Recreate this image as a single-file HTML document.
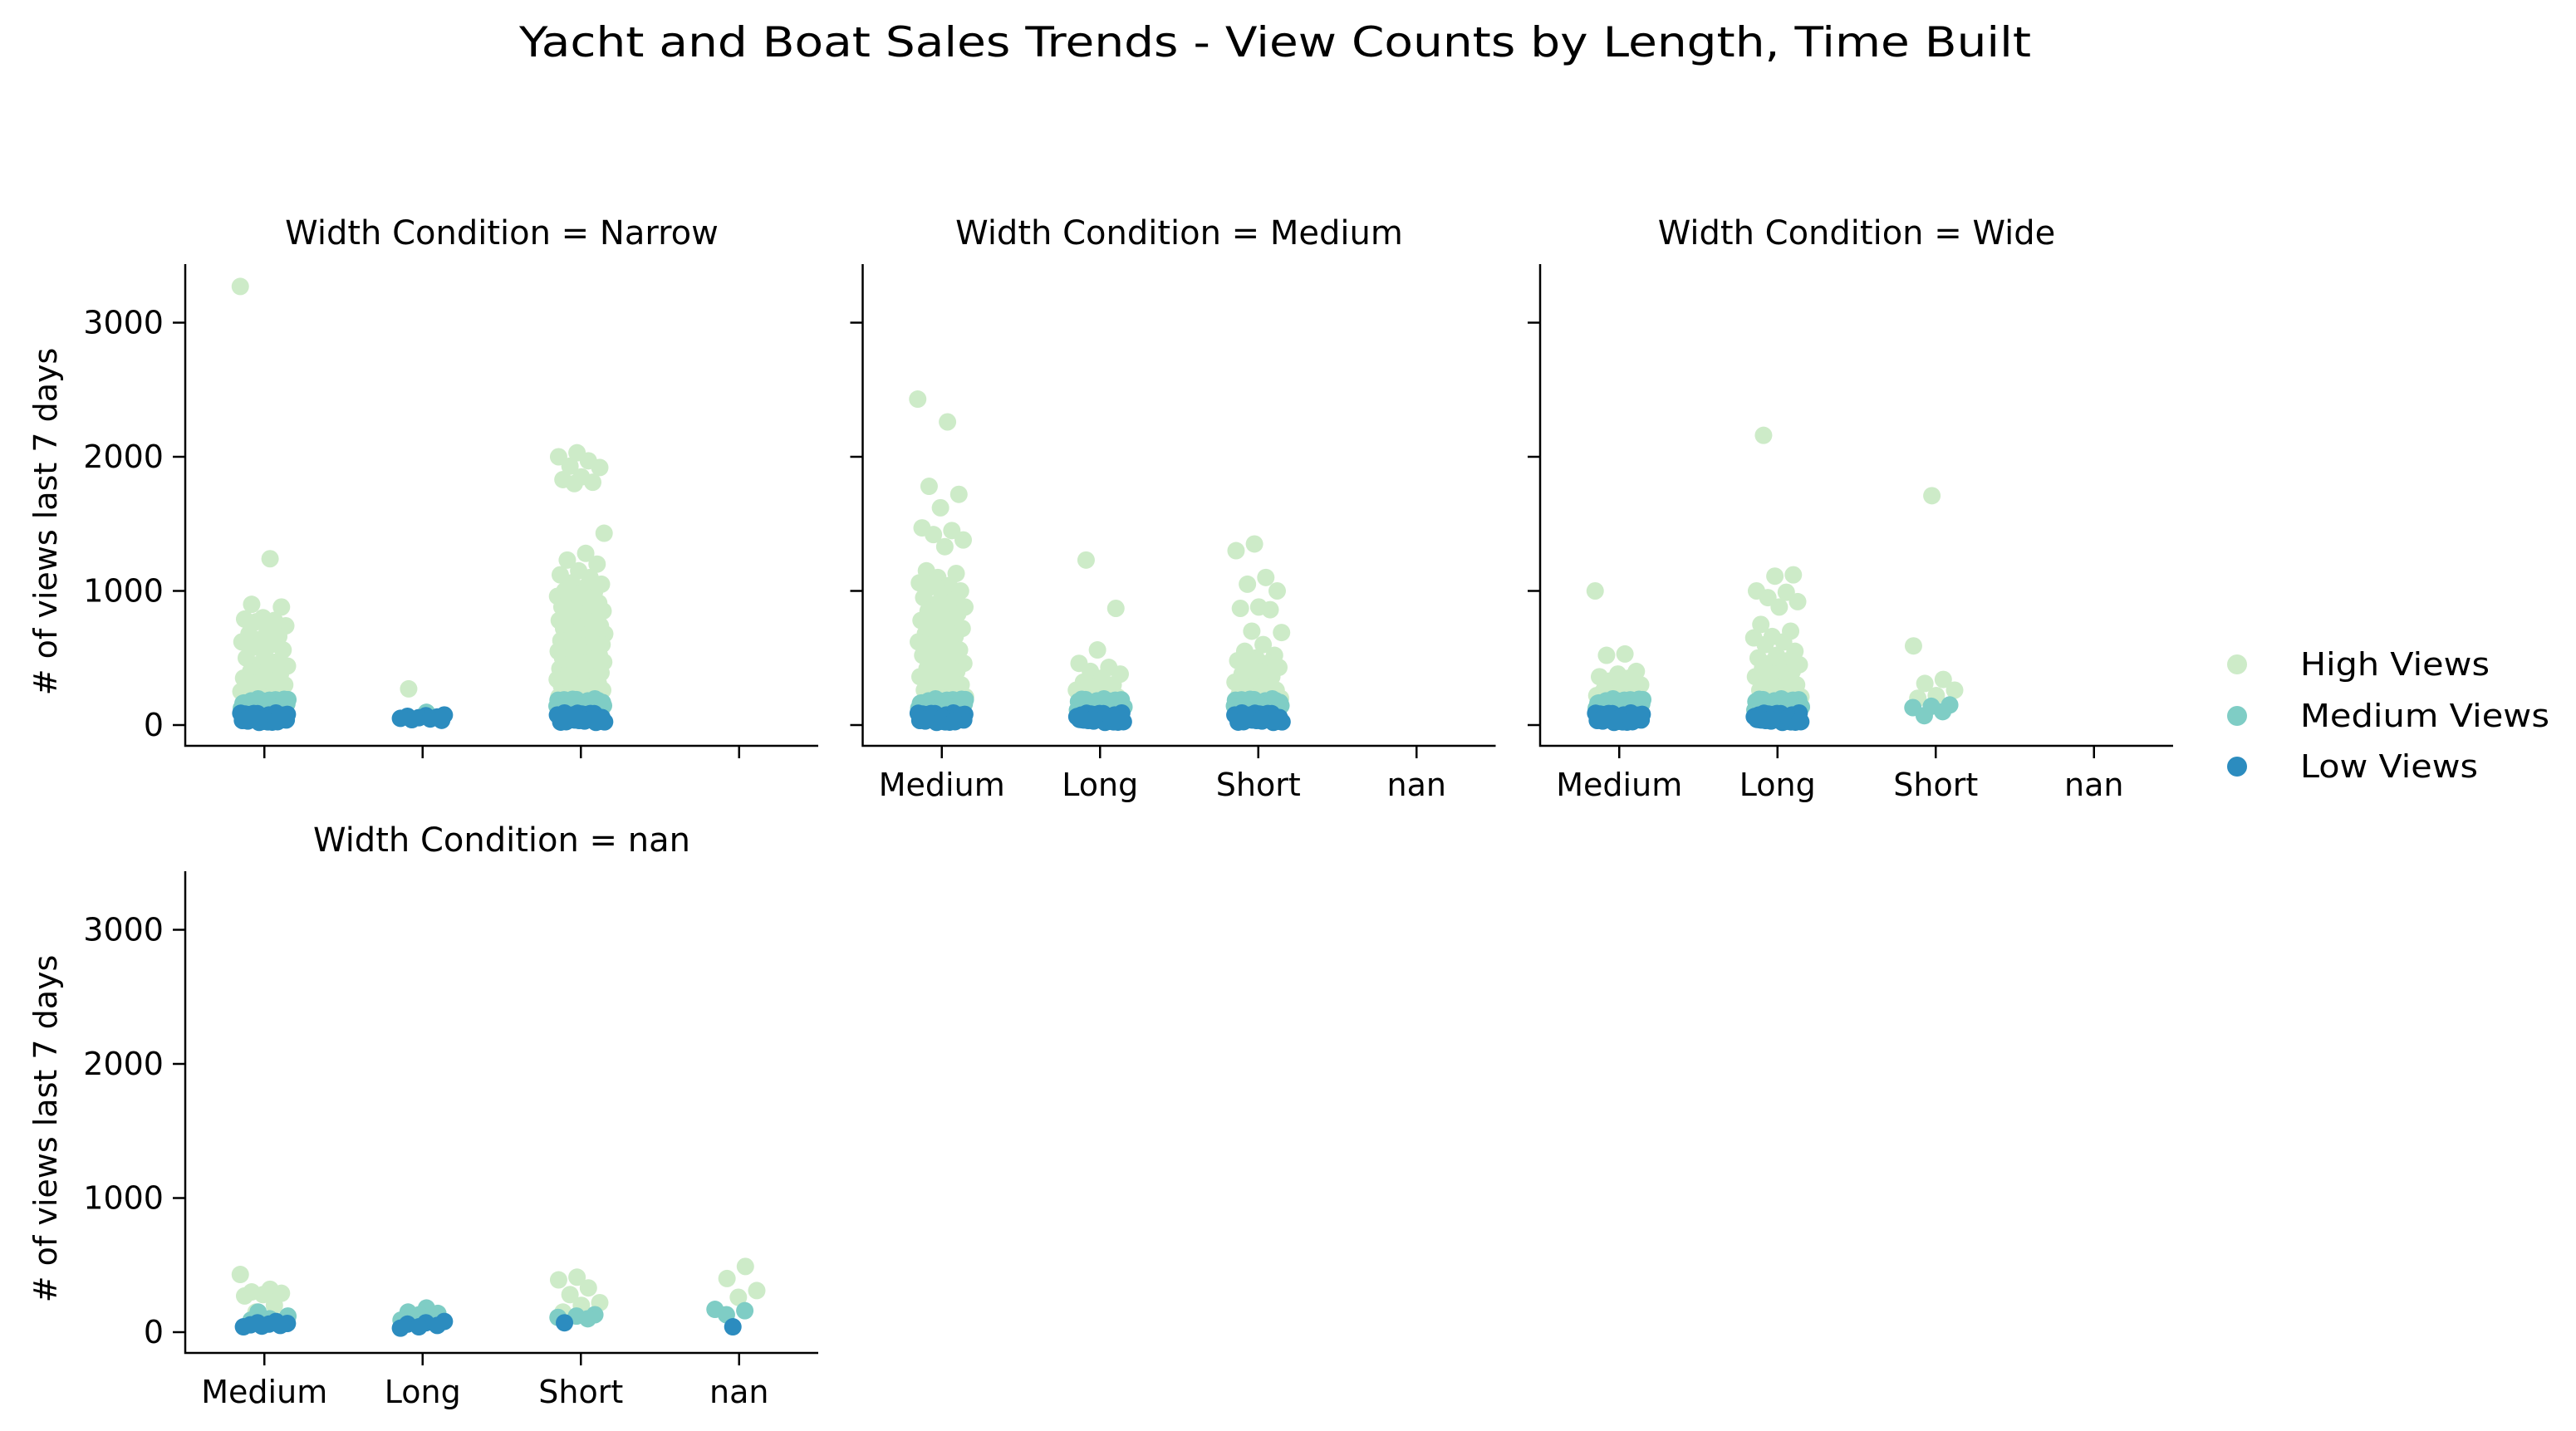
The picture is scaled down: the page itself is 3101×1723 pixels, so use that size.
<!DOCTYPE html>
<html><head><meta charset="utf-8"><style>
html,body{margin:0;padding:0;background:#fff;}
svg text{font-family:"DejaVu Sans","Liberation Sans",sans-serif;fill:#000;}
</style></head><body>
<svg id="chart" width="3101" height="1718" viewBox="0 0 3101 1718" xmlns="http://www.w3.org/2000/svg">
<rect width="3101" height="1718" fill="#fff"/>
<text x="1535" y="68" font-size="50" text-anchor="middle" textLength="1820" lengthAdjust="spacingAndGlyphs">Yacht and Boat Sales Trends - View Counts by Length, Time Built</text>
<g id="plots"></g>
<g>
<circle cx="2693" cy="800" r="12" fill="#cdebc8"/>
<text x="2769" y="813" font-size="38" textLength="228" lengthAdjust="spacingAndGlyphs">High Views</text>
<circle cx="2693" cy="862" r="12" fill="#7fcdc5"/>
<text x="2769" y="875" font-size="38" textLength="300" lengthAdjust="spacingAndGlyphs">Medium Views</text>
<circle cx="2693" cy="923" r="12" fill="#2c8cbf"/>
<text x="2769" y="936" font-size="38" textLength="214" lengthAdjust="spacingAndGlyphs">Low Views</text>
</g>
</svg>
<script>
const categories = ["Medium","Long","Short","nan"];
const yTicks = [0,1000,2000,3000];
const panelTitles = ["Narrow","Medium","Wide","nan"];
const hueNames = ["High Views","Medium Views","Low Views"];
const hueColors = ["#cdebc8","#7fcdc5","#2c8cbf"];

const lowBand = [90,85,80,75,70,65,60,55,50,45,40,35,30,25,20,88,72,58,42,28,82,66,52,38,24,78,62,48,34,22,86,74,56,44,32];
const medBand = [195,190,185,180,175,170,165,160,155,150,145,140,135,130,125,120,115,110,105,100,188,172,158,142,128,112,182,162,138,118,192,168,148,132,108];

// Narrow
const narrowMediumHigh = [3270,1240,900,880,800,790,780,770,740,700,680,660,640,620,600,580,560,520,500,470,450,440,430,400,380,360,350,330,310,300,290,280,270,260,250,240,230,220,210,205];
const narrowLongHigh = [270];
const narrowLongMed = [95];
const narrowLongLow = [75,70,65,60,55,50,45,40,35];
const narrowShortHigh = [2030,2000,1970,1930,1920,1850,1830,1810,1800,1430,1280,1230,1200,1150,1120,1100,1060,1050,1020,1000,990,980,960,950,930,910,900,880,870,860,850,830,820,800,790,780,770,760,740,730,720,700,690,680,670,660,650,640,630,620,610,600,590,580,570,560,550,540,530,520,510,500,490,480,470,460,450,440,430,420,410,400,390,380,370,360,350,340,330,320,310,300,290,280,270,260,250,240,230,220,210,200];
// Medium
const mediumMediumHigh = [2430,2260,1780,1720,1620,1470,1450,1420,1380,1330,1150,1130,1100,1060,1040,1030,1000,980,950,930,900,880,860,850,830,800,780,760,740,720,700,680,660,640,620,600,580,560,540,520,500,480,460,440,420,400,380,360,340,320,300,280,260,240,220,210,200];
const mediumLongHigh = [1230,870,560,460,430,400,380,350,320,300,280,260,240,220,210];
const mediumShortHigh = [1350,1300,1100,1050,1000,880,870,860,700,690,600,550,520,500,480,460,450,430,400,380,360,340,320,300,280,260,240,230,220,210,200];
// Wide
const wideMediumHigh = [1000,530,520,400,380,360,350,330,300,280,260,250,230,220,210];
const wideLongHigh = [2160,1120,1110,1000,990,950,920,880,750,700,660,650,620,600,550,520,500,480,460,450,430,420,400,380,360,340,320,300,280,260,240,220,210];
const wideShortHigh = [1710,590,340,310,260,220,200];
const wideShortMed = [150,140,130,100,70];
// nan
const nanMediumHigh = [430,320,300,290,280,270,200,150,100];
const nanMediumMed = [150,120,100,90];
const nanMediumLow = [80,70,65,60,55,50,45,40];
const nanLongMed = [180,150,140,130,90];
const nanLongLow = [80,70,60,50,40,30];
const nanShortHigh = [410,390,330,280,220,200,150];
const nanShortMed = [130,120,110,100];
const nanShortLow = [70];
const nanNanHigh = [490,400,310,260];
const nanNanMed = [170,160,130];
const nanNanLow = [40];

const panelData = [
  [[narrowMediumHigh, medBand, lowBand],[narrowLongHigh, narrowLongMed, narrowLongLow],[narrowShortHigh, medBand, lowBand],[[],[],[]]],
  [[mediumMediumHigh, medBand, lowBand],[mediumLongHigh, medBand, lowBand],[mediumShortHigh, medBand, lowBand],[[],[],[]]],
  [[wideMediumHigh, medBand, lowBand],[wideLongHigh, medBand, lowBand],[wideShortHigh, wideShortMed, []],[[],[],[]]],
  [[nanMediumHigh, nanMediumMed, nanMediumLow],[[], nanLongMed, nanLongLow],[nanShortHigh, nanShortMed, nanShortLow],[nanNanHigh, nanNanMed, nanNanLow]]
];

const NS = "http://www.w3.org/2000/svg";
const root = document.getElementById("plots");
const W = 762, CAT = 190.5, PXPER = 0.1615;
const layouts = [
  {left:223, top:318, bottom:898, zero:873, ylabels:true, xlabels:false},
  {left:1038.5, top:318, bottom:898, zero:873, ylabels:false, xlabels:true},
  {left:1854, top:318, bottom:898, zero:873, ylabels:false, xlabels:true},
  {left:223, top:1049, bottom:1629, zero:1604, ylabels:true, xlabels:true}
];
function mk(tag, attrs, parent){const e=document.createElementNS(NS,tag);for(const k in attrs)e.setAttribute(k,attrs[k]);parent.appendChild(e);return e;}

layouts.forEach((L, p) => {
  const g = mk("g", {}, root);
  
  
  const xS = c => L.left + (c + 0.5) * CAT;
  const yS = v => L.zero - v * PXPER;
  const t = mk("text", {x: L.left + W/2, y: L.top - 24, "font-size": 40, "text-anchor": "middle"}, g);
  t.textContent = "Width Condition = " + panelTitles[p];
  
  
  panelData[p].forEach((catSeries, c) => {
    catSeries.forEach((vals, h) => {
      vals.forEach((v, i) => {
        const f = ((i * 0.618034 + h * 0.37 + c * 0.21) % 1) - 0.5;
        const cx = xS(c) + f * 58;
        const dot = mk("circle", {cx: cx, cy: yS(v), r: 10.5, fill: hueColors[h]}, g);
        
        
      });
    });
  });
  const ax = mk("path", {d: `M${L.left} ${L.top}V${L.bottom}H${L.left + W}`, stroke: "#000", "stroke-width": 2.5, fill: "none"}, g);
  
  
  yTicks.forEach(tv => {
    mk("line", {x1: L.left - 15, x2: L.left, y1: yS(tv), y2: yS(tv), stroke: "#000", "stroke-width": 2.5}, g);
    if (L.ylabels) {
      const tl = mk("text", {x: L.left - 26, y: yS(tv) + 13, "font-size": 38, "text-anchor": "end"}, g);
      tl.textContent = tv;
      
      
    }
  });
  categories.forEach((cn, c) => {
    mk("line", {x1: xS(c), x2: xS(c), y1: L.bottom, y2: L.bottom + 15, stroke: "#000", "stroke-width": 2.5}, g);
    if (L.xlabels) {
      const tl = mk("text", {x: xS(c), y: L.bottom + 60, "font-size": 38, "text-anchor": "middle"}, g);
      tl.textContent = cn;
      
      
    }
  });
  if (L.ylabels) {
    const cy = (L.top + L.bottom) / 2 + 20;
    const yl = mk("text", {x: 0, y: 0, "font-size": 38, "text-anchor": "middle", transform: `translate(68 ${cy}) rotate(-90)`}, g);
    yl.textContent = "# of views last 7 days";
    
    
  }
});
</script>
</body></html>
